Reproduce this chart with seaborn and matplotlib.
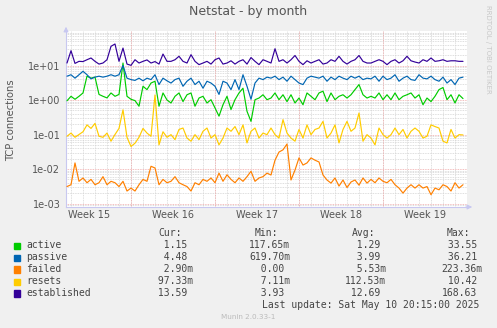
import numpy as np
import pandas as pd
import matplotlib
matplotlib.use("Agg")
import matplotlib.pyplot as plt
import seaborn as sns
from matplotlib.ticker import FixedLocator, LogLocator, NullFormatter

# ---------------- data ----------------
series_names = ["active", "passive", "failed", "resets", "established"]
series_colors = ["#00CC00", "#0066B3", "#FF8000", "#FFCC00", "#330099"]

active = [0.95, 1.28, 1.05, 1.28, 1.6, 4.9, 4.3, 4.6, 1.45, 1.28,
          1.15, 1.6, 1.28, 1.45, 11.8, 1.28, 1.05, 0.96, 0.66, 2.5,
          2.0, 3.1, 3.5, 0.66, 1.6, 1.0, 0.82, 1.28, 1.6, 0.9,
          1.42, 1.6, 0.66, 1.14, 1.28, 0.82, 1.02, 0.59, 0.34, 0.73,
          1.28, 0.53, 1.02, 1.6, 2.2, 0.47, 0.24, 1.02, 1.14, 1.42,
          1.02, 1.14, 1.6, 1.02, 1.42, 0.9, 1.42, 0.82, 1.14, 0.73,
          1.6, 1.28, 1.02, 1.6, 1.8, 0.9, 1.6, 1.02, 1.28, 1.42,
          1.14, 1.42, 2.0, 2.8, 1.42, 1.14, 1.28, 1.14, 1.6, 1.02,
          1.42, 1.02, 1.6, 1.02, 1.28, 1.42, 1.6, 1.14, 1.42, 0.73,
          1.14, 0.9, 1.28, 2.0, 2.3, 1.02, 1.42, 0.82, 1.42, 1.1]

passive = [4.9, 5.4, 4.3, 5.4, 6.8, 5.4, 4.1, 4.6, 4.9, 4.6,
           4.9, 5.4, 4.9, 5.4, 10.0, 4.3, 3.9, 3.7, 4.3, 3.6,
           4.3, 3.9, 5.4, 2.8, 4.3, 3.6, 3.1, 3.9, 4.3, 2.5,
           3.5, 4.3, 2.8, 3.5, 2.2, 3.5, 3.1, 2.5, 1.45, 3.5,
           3.1, 2.0, 3.9, 2.0, 5.4, 2.5, 1.05, 3.1, 4.3, 3.9,
           4.6, 4.3, 4.9, 3.9, 4.6, 3.5, 4.9, 3.9, 3.1, 2.8,
           4.3, 4.9, 4.6, 4.3, 4.9, 3.5, 4.6, 3.9, 4.9, 4.3,
           3.9, 4.9, 4.3, 4.9, 3.9, 4.3, 4.1, 4.9, 3.5, 4.9,
           3.9, 4.3, 5.4, 3.5, 4.3, 4.9, 3.9, 3.7, 5.4, 4.3,
           4.1, 4.9, 3.9, 3.5, 4.6, 3.1, 3.9, 2.8, 4.3, 4.6]

failed = [0.0031, 0.0035, 0.015, 0.0044, 0.0055, 0.004, 0.005, 0.0035, 0.004, 0.006,
          0.0035, 0.0044, 0.004, 0.0031, 0.0044, 0.0023, 0.0028, 0.0023, 0.0035, 0.005,
          0.0044, 0.012, 0.0107, 0.0035, 0.005, 0.004, 0.0044, 0.006, 0.004, 0.0035,
          0.0031, 0.0023, 0.004, 0.0035, 0.005, 0.0044, 0.0055, 0.004, 0.0076, 0.0044,
          0.0068, 0.005, 0.004, 0.0055, 0.0044, 0.006, 0.0086, 0.0044, 0.0055, 0.006,
          0.0076, 0.0067, 0.018, 0.031, 0.036, 0.053, 0.0048, 0.0093, 0.021, 0.013,
          0.015, 0.021, 0.018, 0.016, 0.0067, 0.0048, 0.0039, 0.0055, 0.0032, 0.0048,
          0.0029, 0.0042, 0.0048, 0.0034, 0.0055, 0.0039, 0.005, 0.004, 0.0055, 0.0044,
          0.004, 0.005, 0.0035, 0.0028, 0.002, 0.0028, 0.0035, 0.0028, 0.0035, 0.0028,
          0.0031, 0.0018, 0.0028, 0.0025, 0.0035, 0.0031, 0.0023, 0.004, 0.0028, 0.0035]

resets = [0.089, 0.11, 0.083, 0.1, 0.12, 0.19, 0.15, 0.21, 0.089, 0.083,
          0.11, 0.064, 0.1, 0.15, 0.52, 0.083, 0.045, 0.056, 0.083, 0.15,
          0.11, 0.089, 1.4, 0.05, 0.12, 0.083, 0.099, 0.071, 0.14, 0.154,
          0.079, 0.064, 0.099, 0.071, 0.124, 0.154, 0.079, 0.099, 0.05, 0.079,
          0.154, 0.124, 0.17, 0.099, 0.19, 0.057, 0.124, 0.154, 0.079, 0.11,
          0.099, 0.154, 0.099, 0.079, 0.27, 0.11, 0.079, 0.064, 0.14, 0.079,
          0.19, 0.099, 0.14, 0.154, 0.24, 0.079, 0.11, 0.19, 0.057, 0.14,
          0.24, 0.124, 0.154, 0.42, 0.064, 0.099, 0.079, 0.05, 0.154, 0.099,
          0.079, 0.099, 0.154, 0.099, 0.14, 0.079, 0.124, 0.154, 0.124, 0.079,
          0.089, 0.19, 0.17, 0.154, 0.064, 0.057, 0.14, 0.079, 0.099, 0.097]

established = [11.8, 26.8, 11.5, 13.2, 13.0, 14.7, 16.5, 13.2, 11.0, 11.8,
               14.7, 36.0, 42.0, 13.2, 32.0, 11.0, 10.1, 14.7, 11.8, 13.2,
               14.5, 11.8, 13.0, 11.0, 21.5, 13.2, 13.2, 14.7, 18.5, 13.2,
               11.8, 20.6, 13.2, 10.6, 11.8, 13.2, 11.0, 14.7, 16.5, 11.0,
               11.8, 13.7, 11.0, 13.2, 14.7, 11.0, 17.0, 13.2, 10.6, 14.7,
               13.2, 11.8, 30.6, 13.2, 14.7, 11.8, 14.7, 19.5, 13.2, 10.6,
               13.7, 11.8, 13.2, 14.7, 11.0, 11.8, 14.7, 13.2, 18.5, 13.2,
               11.0, 13.2, 14.7, 19.5, 13.2, 11.8, 11.8, 13.2, 14.7, 13.2,
               10.6, 13.2, 14.7, 11.8, 13.7, 18.5, 13.7, 12.6, 11.8, 14.7,
               13.2, 16.5, 13.2, 13.7, 14.7, 13.2, 13.7, 13.7, 13.2, 13.2]

# sample times in hours since the left edge of the graph (one sample every 8 h)
hours = 2 + 8 * np.arange(len(active))

week_labels = ["Week 15", "Week 16", "Week 17", "Week 18", "Week 19"]
week_centers = [46, 214, 382, 550, 718]        # hours
week_boundaries = [130, 298, 466, 634]         # hours (Monday 00:00)

cur_vals = ["1.15", "4.48", "2.90m", "97.33m", "13.59"]
min_vals = ["117.65m", "619.70m", "0.00", "7.11m", "3.93"]
avg_vals = ["1.29", "3.99", "5.53m", "112.53m", "12.69"]
max_vals = ["33.55", "36.21", "223.36m", "10.42", "168.63"]

# ---------------- figure ----------------
W, H = 497, 328
sns.set_style("white")
plt.rcParams["font.family"] = ["DejaVu Sans"]

fig = plt.figure(figsize=(W / 100, H / 100), dpi=100, facecolor="#F0F0F0")
ax = fig.add_axes([66 / W, 1 - 207 / H, 401 / W, 176 / H])
ax.set_facecolor("white")

df = pd.concat([
    pd.DataFrame({"hours": hours, "value": vals, "series": name})
    for name, vals in zip(series_names, [active, passive, failed, resets, established])
])
sns.lineplot(data=df, x="hours", y="value", hue="series", hue_order=series_names,
             palette=dict(zip(series_names, series_colors)), estimator=None,
             linewidth=0.85, legend=False, ax=ax, zorder=5)

ax.set_yscale("log")
ax.set_ylim(7.92e-4, 100)
ax.set_xlim(0, 802)
ax.set_xlabel("")
ax.set_ylabel("")

# grid
grid_gray = "#D4D4D4"
grid_red = "#F0A8A8"
ax.yaxis.set_major_locator(FixedLocator([1e-3, 1e-2, 1e-1, 1, 10]))
ax.set_yticklabels(["1e-03", "1e-02", "1e-01", "1e+00", "1e+01"])
ax.yaxis.set_minor_locator(LogLocator(base=10, subs=np.arange(2, 10)))
ax.yaxis.set_minor_formatter(NullFormatter())
ax.grid(which="minor", axis="y", color=grid_gray, linestyle=(0, (1, 1)), linewidth=0.6, zorder=1)
ax.grid(which="major", axis="y", color=grid_red, linestyle=(0, (1, 1)), linewidth=0.6, zorder=2)

ax.set_xticks(week_centers)
ax.set_xticklabels(week_labels)
day_lines = np.arange(week_boundaries[0] - 24 * 5, 802, 24)
ax.xaxis.set_minor_locator(FixedLocator(day_lines))
ax.grid(which="minor", axis="x", color=grid_gray, linestyle=(0, (1, 1)), linewidth=0.6, zorder=1)
for b in week_boundaries:
    ax.axvline(b, color=grid_red, linestyle=(0, (1, 1)), linewidth=0.6, zorder=2)

ax.tick_params(axis="both", which="both", length=0, labelsize=7, labelcolor="#555555")
ax.tick_params(axis="y", pad=4)
ax.tick_params(axis="x", pad=2)

for s in ["top", "right"]:
    ax.spines[s].set_visible(False)
axis_col = "#C8C8F0"
ax.spines["left"].set_color(axis_col)
ax.spines["bottom"].set_color(axis_col)
ax.spines["left"].set_linewidth(0.8)
ax.spines["bottom"].set_linewidth(0.8)
ax.annotate("", xy=(0, 1.04), xytext=(0, 0.98), xycoords="axes fraction",
            arrowprops=dict(arrowstyle="-|>", color=axis_col, lw=0.8, mutation_scale=7))
ax.annotate("", xy=(1.02, 0), xytext=(0.99, 0), xycoords="axes fraction",
            arrowprops=dict(arrowstyle="-|>", color=axis_col, lw=0.8, mutation_scale=7))

# texts
def fx(px):
    return px / W

def fy(py):
    return 1 - py / H

fig.text(fx(248), fy(12), "Netstat - by month", ha="center", va="center",
         fontsize=9, color="#555555")
fig.text(fx(11), fy(120), "TCP connections", ha="center", va="center",
         rotation=90, fontsize=7.2, color="#555555")
fig.text(fx(488), fy(5), "RRDTOOL / TOBI OETIKER", ha="center", va="top",
         rotation=270, fontsize=5, color="#C8C8C8")

mono = "DejaVu Sans Mono"
fs = 7
txtc = "#444444"
headers = ["Cur:", "Min:", "Avg:", "Max:"]
header_x = [158.5, 255, 352, 447]
for h, hx in zip(headers, header_x):
    fig.text(fx(hx), fy(233), h, ha="left", va="center", family=mono, fontsize=fs, color=txtc)

col_x = [152.4, 249.3, 345.0, 441.6]
row_y = [245.5, 257.5, 269.3, 281.5, 293.3]


def fmt(s):
    if s.endswith("m"):
        return s[:-1].rjust(6) + "m"
    return s.rjust(6)


for i, name in enumerate(series_names):
    yy = fy(row_y[i])
    fig.patches.append(plt.Rectangle((fx(14), yy - 3.2 / H), 6.2 / W, 6.2 / H,
                                     transform=fig.transFigure, color=series_colors[i],
                                     figure=fig))
    fig.text(fx(26.5), yy, name, ha="left", va="center", family=mono, fontsize=fs, color=txtc)
    for cx, col in zip(col_x, [cur_vals, min_vals, avg_vals, max_vals]):
        fig.text(fx(cx), yy, fmt(col[i]), ha="left", va="center", family=mono,
                 fontsize=fs, color=txtc)

fig.text(fx(261.5), fy(305.5), "Last update: Sat May 10 20:15:00 2025", ha="left",
         va="center", family=mono, fontsize=fs, color=txtc)
fig.text(fx(248.5), fy(317), "Munin 2.0.33-1", ha="center", va="center",
         fontsize=5.2, color="#BBBBBB")

fig.savefig("out.png", dpi=100, facecolor=fig.get_facecolor())
